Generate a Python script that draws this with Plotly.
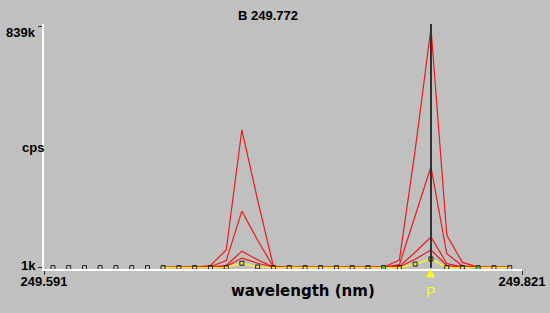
import plotly.graph_objects as go

# sample wavelengths (nm)
wavelength = [249.5953, 249.6029, 249.6105, 249.6180, 249.6256, 249.6332, 249.6408,
              249.6483, 249.6559, 249.6635, 249.6711, 249.6787, 249.6862, 249.6938,
              249.7014, 249.7090, 249.7166, 249.7241, 249.7317, 249.7393, 249.7469,
              249.7544, 249.7620, 249.7696, 249.7772, 249.7848, 249.7923, 249.7999,
              249.8075, 249.8151]

N = None
# red spectra (cps), one per standard
std_a = [N, N, N, N, N, N, N, 2500, 2600, 3000, 9000, 63000, 480000, 236000, 6000, 2800,
         2500, 2400, 2400, 2500, 2600, 3200, 28000, 410000, 835000, 115000, 20000, 3500, 2600, 2500]
std_b = [N, N, N, N, N, N, N, 2400, 2500, 2700, 5000, 26000, 198000, 97000, 4000, 2600,
         2400, 2300, 2300, 2400, 2500, 2800, 12000, 180000, 352000, 50000, 8000, 3000, 2500, 2400]
std_c = [N, N, N, N, N, N, N, 2300, 2400, 2500, 3500, 9000, 59000, 29000, 3500, 2500,
         2300, 2200, 2200, 2300, 2400, 2600, 6000, 55000, 108000, 16000, 4500, 2700, 2400, 2300]
std_d = [N, N, N, N, N, N, N, 2200, 2300, 2400, 3000, 5500, 35000, 17000, 3000, 2400,
         2200, 2100, 2100, 2200, 2300, 2500, 4000, 31000, 63000, 9000, 3500, 2500, 2300, 2200]
# sample (yellow + squares)
sample = [1800, 1800, 1800, 1800, 1800, 1800, 1800, 1800, 1800, 1900, 2000, 2500, 17000, 4000,
          2000, 1900, 1800, 1800, 1800, 1800, 1800, 1900, 2000, 14000, 32000, 2000, 1900, 1800,
          1800, 1800]

peak_idx = 24
green_idx = [21, 27]
y_ticks = [1000, 839000]
y_labels = ["1k", "839k"]
x_ticks = [249.591, 249.821]
x_labels = ["249.591", "249.821"]

fig = go.Figure()
for s in [std_a, std_b, std_c, std_d]:
    fig.add_trace(go.Scatter(x=wavelength, y=s, mode="lines",
                             line=dict(color="#f01818", width=1.2)))
fig.add_trace(go.Scatter(x=wavelength[7:], y=sample[7:], mode="lines",
                         line=dict(color="#ffff00", width=1.2)))
fig.add_trace(go.Scatter(x=[wavelength[peak_idx]] * 2, y=[y_ticks[0], 848000], mode="lines",
                         line=dict(color="#303030", width=2)))
fig.add_trace(go.Scatter(x=[wavelength[i] for i in green_idx], y=[std_a[i] for i in green_idx],
                         mode="markers", marker=dict(color="#00e000", size=3)))
fig.add_trace(go.Scatter(x=wavelength, y=sample, mode="markers",
                         marker=dict(symbol="square-open", size=4, color="#202020",
                                     line=dict(width=1, color="#202020"))))

font = dict(family="Liberation Sans, Arial", size=13, color="black")
fig.update_layout(
    width=550, height=313,
    margin=dict(l=44, r=28, t=24, b=44),
    paper_bgcolor="#c0c0c0", plot_bgcolor="#c0c0c0",
    showlegend=False, font=font,
    xaxis=dict(range=[249.591, 249.821], showgrid=False, zeroline=False, automargin=False,
               showline=True, linecolor="white", linewidth=2,
               tickvals=x_ticks, ticktext=["<b>%s</b>" % t for t in x_labels],
               ticks="outside", ticklen=4, tickcolor="#303030", tickfont=font,
               ticklabelstandoff=-5),
    yaxis=dict(range=[-3000, 848000], showgrid=False, zeroline=False, automargin=False,
               showline=True, linecolor="white", linewidth=2,
               tickvals=y_ticks, ticks="outside", ticklen=4, tickcolor="#303030",
               showticklabels=False),
)

fig.add_annotation(text="<b>B 249.772</b>", x=0.4686, y=1.0367, xref="paper", yref="paper",
                   showarrow=False, font=font, yanchor="middle")
fig.add_annotation(text="<b>%s</b>" % y_labels[1], x=-0.0126, y=0.967, xref="paper", yref="paper",
                   showarrow=False, font=font, xanchor="right", yanchor="middle")
fig.add_annotation(text="<b>%s</b>" % y_labels[0], x=-0.0126, y=0.0163, xref="paper", yref="paper",
                   showarrow=False, font=font, xanchor="right", yanchor="middle")
fig.add_annotation(text="<b>cps</b>", x=-0.05, y=0.494, xref="paper", yref="paper",
                   showarrow=False, font=font)
fig.add_annotation(text="<b>wavelength (nm)</b>", x=0.5418, y=-0.1347, xref="paper", yref="paper",
                   showarrow=False, font=dict(family="DejaVu Sans", size=15, color="black"))
fig.add_annotation(text="▲", x=wavelength[peak_idx], y=-0.049, xref="x", yref="paper",
                   showarrow=False, font=dict(family="DejaVu Sans", size=11, color="#ffff00"),
                   yanchor="bottom")
fig.add_annotation(text="P", x=wavelength[peak_idx], y=-0.052, xref="x", yref="paper",
                   showarrow=False, font=dict(family="Liberation Sans", size=14, color="#ffff00"),
                   yanchor="top")

fig.write_html("out.html", config={"displayModeBar": False},
               post_script="document.body.style.margin='0';")
